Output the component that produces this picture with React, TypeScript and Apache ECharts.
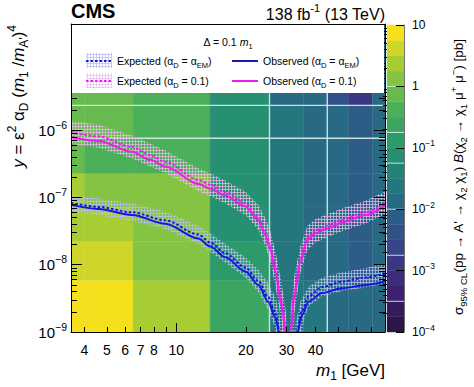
import React, { useEffect, useRef } from 'react';
import * as echarts from 'echarts';

const FONT = "'Liberation Sans', Arial, Helvetica, sans-serif";
const BLUE = '#1616e4';
const MAGENTA = '#f01af0';

// ---------------- axes ----------------
const X_MIN = 3.5;
const X_MAX = 80;
const Y_MIN = 1e-9;
const Y_MAX = 3.8e-5;
const Z_MIN = 1e-4;
const Z_MAX = 10;

const xTickLabels = [4, 5, 6, 7, 8, 10, 20, 30, 40];
const xMajorTicks = [10];
const xMinorTicks = [4, 5, 6, 7, 8, 9, 20, 30, 40, 50, 60, 70];
const yTickLabels = [1e-9, 1e-8, 1e-7, 1e-6];
const yMajorTicks = [1e-9, 1e-8, 1e-7, 1e-6, 1e-5];
const zTickLabels = [1e-4, 1e-3, 1e-2, 1e-1, 1, 10];

// ---------------- heat map (sigma_95%CL, log10 pb) ----------------
const massEdges = [3.5, 4, 6.5, 14, 25.3, 35.5, 45, 55.6, 70.5, 80];
const yEdgesLog = [-9, -8.23, -7.65, -7.14, -6.64, -6.12, -5.63, -4.42];
// one row per mass column, values from the lowest y bin upwards
const cellLogSigma = [
  [0.9, 0.6, 0.4, 0.35, -0.15, -0.2, -0.2],
  [0.9, 0.6, 0.3, 0.15, -0.4, -0.2, -0.2],
  [0.4, 0.2, 0.2, 0.1, -0.4, -0.4, -0.4],
  [-0.6, -0.9, -1.05, -1.1, -1.15, -1.2, -1.2],
  [-1.55, -1.6, -1.7, -1.7, -1.6, -1.6, -1.85],
  [-1.7, -1.85, -1.9, -1.95, -1.85, -1.85, -1.9],
  [-1.8, -1.85, -1.9, -1.9, -1.85, -1.85, -2.4],
  [-1.9, -2.02, -2.05, -2.1, -2.05, -2.05, -2.8],
  [-1.8, -1.85, -1.9, -1.9, -1.85, -1.85, -1.85],
];
const seamMasses = [25.3, 45];
const seamLogY = [-6.12, -5.63];
const colorbarSeamLog = [0, -0.75, -1.25, -2, -2.75, -3.5];

// ---------------- limits: [m1 (GeV), log10 y] ----------------
const blueObserved = [
  [3.5, -7.11], [4.6, -7.17], [6.43, -7.26], [8.96, -7.39], [12.45, -7.61], [14.03, -7.73],
  [16.3, -7.89], [19.89, -8.1], [22.65, -8.3], [25.0, -8.55], [26.84, -8.79], [27.92, -9.02],
  [28.6, -9.5], [32.6, -9.5], [33.3, -9.02], [35.0, -8.75], [37.27, -8.55], [42.73, -8.42],
  [52.2, -8.35], [65.8, -8.3], [80, -8.25],
];
const blueExpected = [
  [3.5, -7.08], [4.6, -7.14], [6.43, -7.22], [8.96, -7.34], [12.45, -7.55], [14.03, -7.67],
  [16.3, -7.83], [19.89, -8.04], [22.65, -8.24], [25.0, -8.48], [26.84, -8.72], [28.0, -9.0],
  [28.7, -9.5], [32.5, -9.5], [33.2, -9.0], [35.0, -8.68], [37.27, -8.47], [42.73, -8.33],
  [52.2, -8.25], [65.8, -8.19], [80, -8.13],
];
const blueBandUpper = [
  [3.5, -6.96], [4.6, -7.01], [6.43, -7.09], [8.96, -7.21], [12.45, -7.42], [14.03, -7.53],
  [16.3, -7.69], [19.89, -7.89], [22.65, -8.07], [25.0, -8.28], [26.84, -8.48], [28.4, -8.85],
  [29.4, -9.5], [31.9, -9.5], [32.7, -8.9], [34.4, -8.55], [37.27, -8.33], [42.73, -8.19],
  [52.2, -8.11], [65.8, -8.05], [80, -7.98],
];
const blueBandLower = [
  [3.5, -7.2], [4.6, -7.26], [6.43, -7.35], [8.96, -7.47], [12.45, -7.69], [14.03, -7.81],
  [16.3, -7.97], [19.89, -8.19], [22.65, -8.41], [25.0, -8.68], [26.84, -8.95], [27.6, -9.5],
  [33.8, -9.5], [35.5, -8.85], [37.27, -8.62], [42.73, -8.47], [52.2, -8.39], [65.8, -8.34],
  [80, -8.28],
];
const magentaObserved = [
  [3.5, -6.1], [4.6, -6.16], [6.43, -6.32], [7.72, -6.44], [8.96, -6.54], [12.49, -6.8],
  [14.03, -6.87], [16.3, -6.97], [19.89, -7.13], [22.65, -7.34], [24.28, -7.56], [25.53, -7.78],
  [26.84, -8.11], [28.48, -8.6], [29.94, -9.05], [30.4, -9.5], [30.7, -9.5], [31.16, -9.05],
  [32.43, -8.45], [34.43, -7.96], [36.91, -7.63], [39.98, -7.53], [45.06, -7.46], [52.33, -7.37],
  [65.8, -7.26], [80, -7.12],
];
const magentaExpected = [
  [3.5, -6.03], [4.6, -6.09], [6.43, -6.25], [7.72, -6.37], [8.96, -6.47], [12.49, -6.74],
  [14.03, -6.81], [16.3, -6.92], [19.89, -7.08], [22.65, -7.29], [24.28, -7.5], [25.53, -7.72],
  [26.84, -8.04], [28.48, -8.52], [29.94, -8.98], [30.45, -9.5], [30.75, -9.5], [31.2, -8.98],
  [32.43, -8.4], [34.43, -7.91], [36.91, -7.59], [39.98, -7.49], [45.06, -7.42], [52.33, -7.33],
  [65.8, -7.22], [80, -7.08],
];
const magentaBandUpper = [
  [3.5, -5.86], [4.6, -5.92], [6.43, -6.08], [7.72, -6.2], [8.96, -6.3], [12.49, -6.57],
  [14.03, -6.64], [16.3, -6.75], [19.89, -6.91], [22.65, -7.11], [24.28, -7.3], [25.53, -7.5],
  [26.84, -7.8], [28.48, -8.25], [29.94, -8.75], [30.5, -9.5], [30.7, -9.5], [31.2, -8.7],
  [32.43, -8.15], [34.43, -7.72], [36.91, -7.42], [39.98, -7.32], [45.06, -7.25], [52.33, -7.16],
  [65.8, -7.05], [80, -6.91],
];
const magentaBandLower = [
  [3.5, -6.2], [4.6, -6.26], [6.43, -6.42], [7.72, -6.54], [8.96, -6.64], [12.49, -6.91],
  [14.03, -6.98], [16.3, -7.09], [19.89, -7.26], [22.65, -7.48], [24.28, -7.72], [25.53, -7.96],
  [26.84, -8.32], [28.48, -8.85], [29.3, -9.5], [32.0, -9.5], [32.43, -8.72], [34.43, -8.12],
  [36.91, -7.78], [39.98, -7.67], [45.06, -7.59], [52.33, -7.5], [65.8, -7.39], [80, -7.25],
];

// ---------------- palette (ROOT-like viridis, 20 contours) ----------------
const paletteStops = ['#2c1646', '#3f2378', '#384188', '#2b5f87', '#237d7d', '#2a9a6b', '#50b257', '#98ca3a', '#f5e01d'];
const CONTOUR_MIN = -4;
const CONTOUR_STEP = 0.25;
const N_CONTOURS = 20;

function hexRgb(h: string) {
  const n = parseInt(h.slice(1), 16);
  return [(n >> 16) & 255, (n >> 8) & 255, n & 255];
}
function paletteColor(t: number) {
  const n = paletteStops.length - 1;
  const f = Math.max(0, Math.min(1, t)) * n;
  const i = Math.min(Math.floor(f), n - 1);
  const r = f - i;
  const a = hexRgb(paletteStops[i]);
  const b = hexRgb(paletteStops[i + 1]);
  const c = a.map((v, k) => Math.round(v + (b[k] - v) * r));
  return `rgb(${c[0]},${c[1]},${c[2]})`;
}

function minorTicks(lo: number, hi: number, max: number) {
  const out: number[] = [];
  for (let d = lo; d <= hi; d++) for (let k = 2; k <= 9; k++) {
    const v = k * Math.pow(10, d);
    if (v < max) out.push(v);
  }
  return out;
}

function makeHatch(color: string) {
  const c = document.createElement('canvas');
  c.width = 3;
  c.height = 3;
  const ctx = c.getContext('2d')!;
  ctx.fillStyle = color;
  ctx.fillRect(0, 0, 3, 1);
  ctx.fillRect(0, 0, 1, 3);
  return { image: c, repeat: 'repeat', imageWidth: 3, imageHeight: 3 } as any;
}

const toPts = (arr: number[][]) => arr.map(([m, l]) => [m, Math.pow(10, l)]);

function supLabel(v: number, bigOnly: boolean) {
  const e = Math.round(Math.log10(v));
  if (bigOnly && e === 0) return '{b|1}';
  if (bigOnly && e === 1) return '{b|10}';
  return `{b|10}{s|${e < 0 ? '\u2212' : ''}${Math.abs(e)}}`;
}

function buildOption() {
  const blueHatch = makeHatch('rgba(185,188,238,0.72)');
  const magHatch = makeHatch('rgba(236,185,236,0.72)');

  const cells: number[][] = [];
  cellLogSigma.forEach((col, ci) => {
    col.forEach((v, ri) => {
      cells.push([massEdges[ci], massEdges[ci + 1], Math.pow(10, yEdgesLog[ri]), Math.pow(10, yEdgesLog[ri + 1]), v]);
    });
  });
  const yTop = Math.pow(10, yEdgesLog[yEdgesLog.length - 1]);
  const yBot = Math.pow(10, yEdgesLog[0]);
  const seams: number[][] = [
    ...seamMasses.map((m) => [m, m, yBot, yTop]),
    ...seamLogY.map((l) => [massEdges[0], massEdges[massEdges.length - 1], Math.pow(10, l), Math.pow(10, l)]),
  ];

  const bands: number[][] = [];
  const pieces: any[] = [];
  for (let i = 0; i < N_CONTOURS; i++) {
    const lo = CONTOUR_MIN + i * CONTOUR_STEP;
    const hi = lo + CONTOUR_STEP;
    const color = paletteColor(i / (N_CONTOURS - 1));
    pieces.push({ gte: lo, lt: hi, color });
    bands.push([0, 1, Math.pow(10, lo), Math.pow(10, hi), lo + CONTOUR_STEP / 2]);
  }
  const cbSeams = colorbarSeamLog.map((l) => [0, 1, Math.pow(10, l), Math.pow(10, l)]);

  const rectItem = (params: any, api: any) => {
    const p0 = api.coord([api.value(0), api.value(2)]);
    const p1 = api.coord([api.value(1), api.value(3)]);
    const color = api.visual('color');
    return {
      type: 'rect',
      shape: { x: p0[0], y: p1[1], width: p1[0] - p0[0], height: p0[1] - p1[1] },
      style: { fill: color, stroke: color, lineWidth: 0.4 },
    };
  };
  const seamItem = (color: string, width: number) => (params: any, api: any) => {
    const p0 = api.coord([api.value(0), api.value(2)]);
    const p1 = api.coord([api.value(1), api.value(3)]);
    return { type: 'line', shape: { x1: p0[0], y1: p0[1], x2: p1[0], y2: p1[1] }, style: { stroke: color, lineWidth: width } };
  };
  const bandSeries = (upper: number[][], lower: number[][], fill: any) => {
    const poly = [...upper, ...lower.slice().reverse()];
    return {
      type: 'custom',
      xAxisIndex: 0,
      yAxisIndex: 0,
      z: 3,
      clip: true,
      silent: true,
      data: toPts(poly),
      encode: { x: 0, y: 1 },
      renderItem: (params: any, api: any) => {
        if (params.dataIndex !== 0) return null;
        const pts = poly.map(([m, l]) => api.coord([m, Math.pow(10, l)]));
        return { type: 'polygon', shape: { points: pts }, style: { fill, stroke: null } };
      },
    };
  };
  const lineSeries = (data: number[][], color: string, dashed: boolean) => ({
    type: 'line',
    xAxisIndex: 0,
    yAxisIndex: 0,
    z: 4,
    data: toPts(data),
    showSymbol: false,
    symbol: 'none',
    smooth: 0.3,
    smoothMonotone: 'x',
    clip: true,
    silent: true,
    lineStyle: { color, width: 2, type: dashed ? [2.5, 2] : 'solid' },
  });

  const black = { color: '#000', width: 1 };
  const logX = (extra: any) => ({ gridIndex: 0, type: 'log', min: X_MIN, max: X_MAX, z: 10, splitLine: { show: false }, ...extra });
  const logY = (extra: any) => ({ gridIndex: 0, type: 'log', min: Y_MIN, max: Y_MAX, z: 10, splitLine: { show: false }, ...extra });
  const logZ = (extra: any) => ({ gridIndex: 1, type: 'log', min: Z_MIN, max: Z_MAX, z: 10, splitLine: { show: false }, ...extra });

  const yMinor = minorTicks(-9, -5, Y_MAX);
  const zMinor = minorTicks(-4, 0, Z_MAX);

  const richT = (base: number, L: number, small: number, supH: number, subH: number) => ({
    n: { fontSize: base, lineHeight: L, fontFamily: FONT, fill: '#000', color: '#000' },
    i: { fontSize: base, lineHeight: L, fontFamily: FONT, fontStyle: 'italic', fill: '#000', color: '#000' },
    sup: { fontSize: small, lineHeight: supH, verticalAlign: 'top', fontFamily: FONT, fill: '#000', color: '#000' },
    sub: { fontSize: small, lineHeight: subH, verticalAlign: 'bottom', fontFamily: FONT, fill: '#000', color: '#000' },
  });
  const legRich = richT(10.5, 16, 7.5, 8, 9);
  const txt = (x: number, y: number, text: string, rich: any, align = 'left', extra: any = {}) => ({
    type: 'text',
    z: 110,
    x,
    y,
    ...extra,
    style: { text, rich, align, textAlign: align, verticalAlign: 'middle', textVerticalAlign: 'middle', fontFamily: FONT, fill: '#000' },
  });

  return {
    animation: false,
    backgroundColor: '#ffffff',
    grid: [
      { left: 71, top: 24, width: 314, height: 308, containLabel: false },
      { left: 387, top: 25, width: 17, height: 307, containLabel: false },
    ],
    xAxis: [
      logX({
        position: 'bottom',
        axisLine: { show: true, onZero: false, lineStyle: black },
        axisTick: { show: true, inside: true, length: 9, customValues: xMajorTicks, lineStyle: black },
        axisLabel: { show: true, customValues: xTickLabels, formatter: (v: number) => String(Math.round(v)), fontSize: 14, color: '#000', fontFamily: FONT, margin: 11 },
      }),
      logX({
        position: 'bottom',
        axisLine: { show: false },
        axisTick: { show: true, inside: true, length: 5, customValues: xMinorTicks, lineStyle: black },
        axisLabel: { show: false },
      }),
      logX({
        position: 'top',
        axisLine: { show: true, onZero: false, lineStyle: black },
        axisTick: { show: false },
        axisLabel: { show: false },
      }),
      { gridIndex: 1, type: 'value', min: 0, max: 1, show: false },
    ],
    yAxis: [
      logY({
        position: 'left',
        axisLine: { show: true, onZero: false, lineStyle: black },
        axisTick: { show: true, inside: true, length: 11, customValues: yMajorTicks, lineStyle: black },
        axisLabel: {
          show: true,
          customValues: yTickLabels,
          formatter: (v: number) => supLabel(v, false),
          margin: 4,
          rich: {
            b: { fontSize: 15, lineHeight: 22, fontFamily: FONT, color: '#000' },
            s: { fontSize: 10.5, lineHeight: 10, verticalAlign: 'top', fontFamily: FONT, color: '#000' },
          },
        },
      }),
      logY({
        position: 'left',
        axisLine: { show: false },
        axisTick: { show: true, inside: true, length: 6, customValues: yMinor, lineStyle: black },
        axisLabel: { show: false },
      }),
      logY({
        position: 'right',
        axisLine: { show: true, onZero: false, lineStyle: black },
        axisTick: { show: true, inside: true, length: 11, customValues: yMajorTicks, lineStyle: black },
        axisLabel: { show: false },
      }),
      logY({
        position: 'right',
        axisLine: { show: false },
        axisTick: { show: true, inside: true, length: 6, customValues: yMinor, lineStyle: black },
        axisLabel: { show: false },
      }),
      logZ({
        position: 'right',
        axisLine: { show: true, onZero: false, lineStyle: { color: '#555', width: 0.8 } },
        axisTick: { show: true, inside: true, length: 8, customValues: zTickLabels, lineStyle: black },
        axisLabel: {
          show: true,
          customValues: zTickLabels,
          formatter: (v: number) => supLabel(v, true),
          margin: 8,
          rich: {
            b: { fontSize: 12, lineHeight: 18, fontFamily: FONT, color: '#000' },
            s: { fontSize: 8.5, lineHeight: 8, verticalAlign: 'top', fontFamily: FONT, color: '#000' },
          },
        },
      }),
      logZ({
        position: 'right',
        axisLine: { show: false },
        axisTick: { show: true, inside: true, length: 4, customValues: zMinor, lineStyle: black },
        axisLabel: { show: false },
      }),
    ],
    visualMap: {
      type: 'piecewise',
      show: false,
      dimension: 4,
      seriesIndex: [0, 8],
      pieces,
    },
    series: [
      {
        type: 'custom',
        xAxisIndex: 0,
        yAxisIndex: 0,
        z: 1,
        silent: true,
        clip: true,
        data: cells,
        dimensions: ['m0', 'm1', 'y0', 'y1', 'logSigma'],
        encode: { x: [0, 1], y: [2, 3] },
        renderItem: rectItem,
      },
      {
        type: 'custom',
        xAxisIndex: 0,
        yAxisIndex: 0,
        z: 2,
        silent: true,
        clip: true,
        data: seams,
        encode: { x: [0, 1], y: [2, 3] },
        renderItem: seamItem('rgba(215,240,235,0.9)', 1.4),
      },
      bandSeries(blueBandUpper, blueBandLower, blueHatch),
      bandSeries(magentaBandUpper, magentaBandLower, magHatch),
      lineSeries(blueExpected, BLUE, true),
      lineSeries(blueObserved, BLUE, false),
      lineSeries(magentaExpected, MAGENTA, true),
      lineSeries(magentaObserved, MAGENTA, false),
      {
        type: 'custom',
        xAxisIndex: 3,
        yAxisIndex: 4,
        z: 1,
        silent: true,
        data: bands,
        dimensions: ['x0', 'x1', 'z0', 'z1', 'logSigma'],
        encode: { x: [0, 1], y: [2, 3] },
        renderItem: rectItem,
      },
      {
        type: 'custom',
        xAxisIndex: 3,
        yAxisIndex: 4,
        z: 2,
        silent: true,
        data: cbSeams,
        encode: { x: [0, 1], y: [2, 3] },
        renderItem: seamItem('rgba(215,240,235,0.85)', 1),
      },
    ],
    graphic: {
      elements: [
        { type: 'rect', z: 100, shape: { x: 72, y: 25, width: 312, height: 68 }, style: { fill: '#fff' } },
        txt(228, 42, '{n|\u0394 = 0.1 }{i|m}{sub|1}', legRich, 'center'),
        { type: 'rect', z: 105, shape: { x: 86, y: 53, width: 26, height: 15 }, style: { fill: blueHatch } },
        { type: 'line', z: 106, shape: { x1: 86, y1: 61, x2: 112, y2: 61 }, style: { stroke: BLUE, lineWidth: 2, lineDash: [2.5, 2] } },
        txt(117, 61, '{n|Expected (\u03b1}{sub|D}{n| = \u03b1}{sub|EM}{n|)}', legRich),
        { type: 'line', z: 106, shape: { x1: 232, y1: 61, x2: 258, y2: 61 }, style: { stroke: '#1a1aa8', lineWidth: 2 } },
        txt(263, 61, '{n|Observed (\u03b1}{sub|D}{n| = \u03b1}{sub|EM}{n|)}', legRich),
        { type: 'rect', z: 105, shape: { x: 86, y: 73, width: 26, height: 15 }, style: { fill: magHatch } },
        { type: 'line', z: 106, shape: { x1: 86, y1: 81, x2: 112, y2: 81 }, style: { stroke: MAGENTA, lineWidth: 2, lineDash: [2.5, 2] } },
        txt(117, 81, '{n|Expected (\u03b1}{sub|D}{n| = 0.1)}', legRich),
        { type: 'line', z: 106, shape: { x1: 232, y1: 81, x2: 258, y2: 81 }, style: { stroke: MAGENTA, lineWidth: 2 } },
        txt(263, 81, '{n|Observed (\u03b1}{sub|D}{n| = 0.1)}', legRich),
        {
          type: 'text', z: 110, x: 71, y: 11,
          style: { text: 'CMS', fontSize: 20, fontWeight: 'bold', fontFamily: FONT, fill: '#000', align: 'left', verticalAlign: 'middle' },
        },
        txt(385, 14, '{n|138 fb}{sup|-1}{n| (13 TeV)}', richT(16, 24, 11, 12, 14), 'right'),
        txt(18, 25, "{i|y}{n| = \u03b5}{sup|2}{n| \u03b1}{sub|D}{n| (}{i|m}{sub|1}{n| /}{i|m}{sub|A'}{n|)}{sup|4}", richT(17, 24, 12, 12, 15), 'right', { rotation: Math.PI / 2 }),
        txt(385, 370, '{i|m}{sub|1}{n| [GeV]}', richT(17, 24, 12, 12, 15), 'right'),
        txt(
          458, 177,
          '{n|\u03c3}{sub|95% CL}{n|(pp \u2192 A\' \u2192 \u03c7}{sub|2}{n| \u03c7}{sub|1}{n|) }{i|B}{n|(\u03c7}{sub|2}{n| \u2192 \u03c7}{sub|1}{n| \u03bc}{sup|+}{n| \u03bc}{sup|\u2212}{n|) [pb]}',
          richT(13.5, 20, 9.5, 10, 12), 'center', { rotation: Math.PI / 2 },
        ),
      ],
    },
  };
}

export default function App() {
  const ref = useRef<HTMLDivElement>(null);
  useEffect(() => {
    const chart = echarts.init(ref.current!, null, { renderer: 'svg' });
    chart.setOption(buildOption() as any);
    return () => chart.dispose();
  }, []);
  return <div ref={ref} style={{ position: 'absolute', left: 0, top: 0, width: 474, height: 387 }} />;
}
